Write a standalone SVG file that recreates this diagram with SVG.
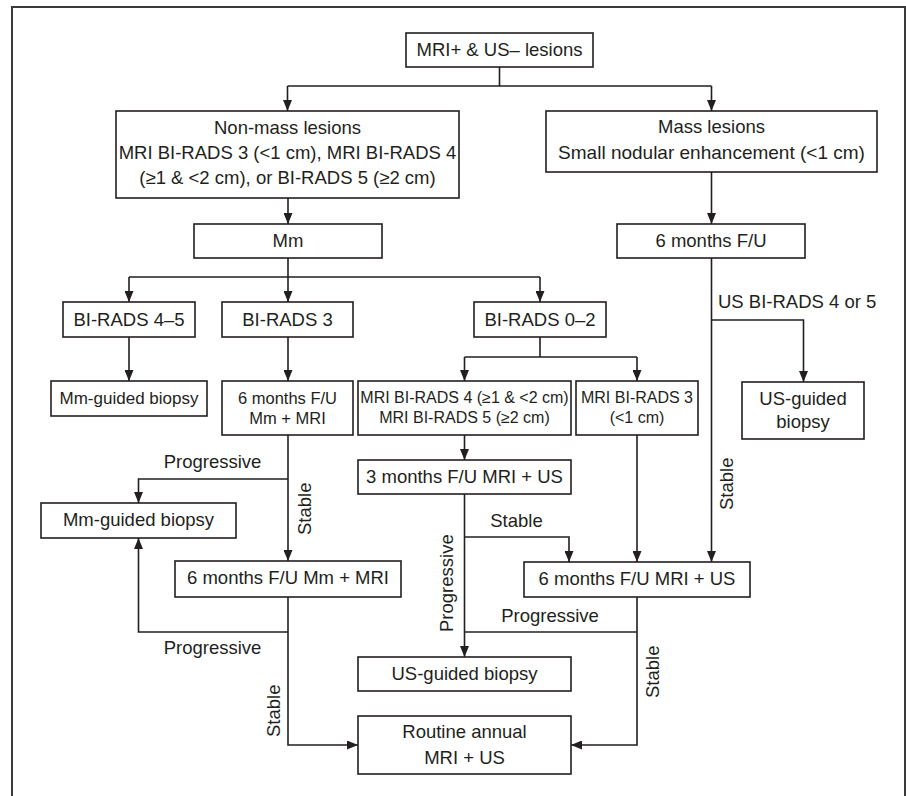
<svg xmlns="http://www.w3.org/2000/svg" width="906" height="796" viewBox="0 0 906 796">
<defs>
<marker id="ah" markerUnits="userSpaceOnUse" markerWidth="11" markerHeight="9" refX="11" refY="4.5" orient="auto">
<path d="M0,0 L11,4.5 L0,9 z" fill="#231f20"/>
</marker>
<style>
.box{fill:#fff;stroke:#231f20;stroke-width:1.6}
.t{font-family:"Liberation Sans",Arial,sans-serif;font-size:18.5px;fill:#231f20;text-anchor:middle}
.s{font-family:"Liberation Sans",Arial,sans-serif;font-size:16px;fill:#231f20;text-anchor:middle}
.l{font-family:"Liberation Sans",Arial,sans-serif;font-size:18.5px;fill:#231f20}
.c{fill:none;stroke:#231f20;stroke-width:1.6}
.a{fill:none;stroke:#231f20;stroke-width:1.6;marker-end:url(#ah)}
</style>
</defs>
<rect width="906" height="796" fill="#fff"/>
<path d="M12,800 V7 H905 V800" fill="none" stroke="#3a3a3a" stroke-width="2"/>

<g id="connectors">
<path class="c" d="M499.5,67 V86 M287.5,86 H711.5"/>
<path class="a" d="M287.5,86 V111"/>
<path class="a" d="M711.5,86 V111"/>
<path class="a" d="M288,198 V224"/>
<path class="a" d="M711.5,172 V224"/>
<path class="c" d="M288,258 V277 M129,277 H540"/>
<path class="a" d="M129,277 V302"/>
<path class="a" d="M288,277 V302"/>
<path class="a" d="M540,277 V302"/>
<path class="a" d="M129,337 V381"/>
<path class="a" d="M288,337 V381"/>
<path class="c" d="M540,337 V357 M464.5,357 H637"/>
<path class="a" d="M464.5,357 V381"/>
<path class="a" d="M637,357 V381"/>
<path class="a" d="M464.5,435 V460"/>
<path class="a" d="M711.5,258 V562"/>
<path class="a" d="M711.5,320 H803.5 V382"/>
<path class="a" d="M288,435 V561"/>
<path class="a" d="M288,479 H138.5 V503"/>
<path class="a" d="M288,597 V745 H358"/>
<path class="a" d="M288,632 H138.5 V538"/>
<path class="a" d="M464.5,494 V657"/>
<path class="a" d="M464.5,537 H569 V562"/>
<path class="a" d="M637,435 V562"/>
<path class="a" d="M637,597 V745 H571"/>
<path class="c" d="M637,632 H464.5"/>
</g>

<g id="labels">
<text class="l" x="718" y="308">US BI-RADS 4 or 5</text>
<text class="l" transform="translate(733,510) rotate(-90)">Stable</text>
<text class="t" x="212.5" y="468">Progressive</text>
<text class="l" transform="translate(311,535) rotate(-90)">Stable</text>
<text class="t" x="212.5" y="654">Progressive</text>
<text class="l" transform="translate(280,737) rotate(-90)">Stable</text>
<text class="t" x="516.5" y="527">Stable</text>
<text class="l" transform="translate(452.5,632) rotate(-90)">Progressive</text>
<text class="t" x="550" y="622">Progressive</text>
<text class="l" transform="translate(659,698) rotate(-90)">Stable</text>
</g>

<g id="n-top"><rect class="box" x="406" y="33" width="187" height="34"/><text class="t" x="499.5" y="56">MRI+ &amp; US– lesions</text></g>
<g id="n-nonmass"><rect class="box" x="116" y="111" width="343" height="87"/>
<text class="t" x="287.5" y="134">Non-mass lesions</text>
<text class="t" x="287.5" y="159">MRI BI-RADS 3 (&lt;1 cm), MRI BI-RADS 4</text>
<text class="t" x="287.5" y="184">(≥1 &amp; &lt;2 cm), or BI-RADS 5 (≥2 cm)</text></g>
<g id="n-mass"><rect class="box" x="546" y="111" width="331" height="61"/>
<text class="t" x="711.5" y="133">Mass lesions</text>
<text class="t" x="711.5" y="159" style="font-size:19px">Small nodular enhancement (&lt;1 cm)</text></g>
<g id="n-mm"><rect class="box" x="194" y="224" width="188" height="34"/><text class="t" x="288" y="247">Mm</text></g>
<g id="n-6mfu"><rect class="box" x="617" y="224" width="188" height="34"/><text class="t" x="711" y="247">6 months F/U</text></g>
<g id="n-br45"><rect class="box" x="63" y="302" width="132" height="35"/><text class="t" x="129" y="326">BI-RADS 4–5</text></g>
<g id="n-br3"><rect class="box" x="222" y="302" width="131" height="35"/><text class="t" x="287.5" y="326">BI-RADS 3</text></g>
<g id="n-br02"><rect class="box" x="474" y="302" width="132" height="35"/><text class="t" x="540" y="326">BI-RADS 0–2</text></g>
<g id="n-mmbiopsy1"><rect class="box" x="51" y="381" width="156" height="35"/><text class="s" x="129" y="404" style="font-size:17px">Mm-guided biopsy</text></g>
<g id="n-6mfu-mm-mri"><rect class="box" x="222" y="381" width="131" height="54"/>
<text class="s" x="287.5" y="404" style="font-size:16.5px">6 months F/U</text><text class="s" x="287.5" y="424" style="font-size:16.5px">Mm + MRI</text></g>
<g id="n-mri45"><rect class="box" x="358" y="381" width="213" height="54"/>
<text class="s" x="464.5" y="403">MRI BI-RADS 4 (≥1 &amp; &lt;2 cm)</text><text class="s" x="464.5" y="423">MRI BI-RADS 5 (≥2 cm)</text></g>
<g id="n-mri3"><rect class="box" x="576" y="381" width="122" height="54"/>
<text class="s" x="637" y="403">MRI BI-RADS 3</text><text class="s" x="637" y="423">(&lt;1 cm)</text></g>
<g id="n-usbiopsy1"><rect class="box" x="742" y="382" width="122" height="57"/>
<text class="t" x="803" y="405">US-guided</text><text class="t" x="803" y="428">biopsy</text></g>
<g id="n-3mfu"><rect class="box" x="358" y="460" width="213" height="34"/><text class="t" x="464.5" y="483">3 months F/U MRI + US</text></g>
<g id="n-mmbiopsy2"><rect class="box" x="41" y="503" width="195" height="35"/><text class="t" x="138.5" y="526">Mm-guided biopsy</text></g>
<g id="n-6mfu-mm-mri2"><rect class="box" x="175" y="561" width="226" height="36"/><text class="t" x="288" y="584">6 months F/U Mm + MRI</text></g>
<g id="n-6mfu-mri-us"><rect class="box" x="524" y="562" width="226" height="35"/><text class="t" x="637" y="585">6 months F/U MRI + US</text></g>
<g id="n-usbiopsy2"><rect class="box" x="358" y="657" width="213" height="34"/><text class="t" x="464.5" y="680">US-guided biopsy</text></g>
<g id="n-routine"><rect class="box" x="358" y="716" width="213" height="58"/>
<text class="t" x="464.5" y="738">Routine annual</text><text class="t" x="464.5" y="764">MRI + US</text></g>
</svg>
